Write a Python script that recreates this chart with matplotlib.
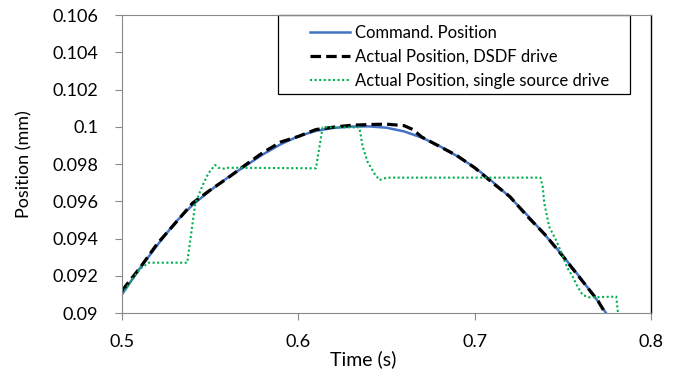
import matplotlib
matplotlib.use('Agg')
from matplotlib import pyplot as plt
from matplotlib.patches import Rectangle
from matplotlib.ticker import FuncFormatter

plt.rcParams['font.family'] = ['Lato', 'DejaVu Sans']

# Command position
t_cmd = [0.500, 0.510, 0.520, 0.530, 0.540, 0.550, 0.560, 0.570, 0.580, 0.590,
         0.600, 0.610, 0.620, 0.630, 0.640, 0.650, 0.660, 0.670, 0.680, 0.690,
         0.700, 0.710, 0.720, 0.730, 0.740, 0.750, 0.760, 0.770, 0.7745]
pos_cmd = [0.09100, 0.09238, 0.09364, 0.09484, 0.09580, 0.09658, 0.09727, 0.09790,
           0.09852, 0.09906, 0.09949, 0.09978, 0.09994, 0.10001, 0.10002, 0.09995,
           0.09975, 0.09942, 0.09897, 0.09843, 0.09782, 0.09706, 0.09622, 0.09524,
           0.09418, 0.09308, 0.09188, 0.09062, 0.09000]

# DSDF drive
t_dsdf = [0.500, 0.510, 0.520, 0.530, 0.540, 0.550, 0.560, 0.570, 0.580, 0.590,
          0.600, 0.610, 0.620, 0.630, 0.640, 0.650, 0.660, 0.665, 0.670, 0.680,
          0.690, 0.700, 0.710, 0.720, 0.730, 0.740, 0.750, 0.760, 0.770, 0.774]
pos_dsdf = [0.09120, 0.09240, 0.09372, 0.09480, 0.09590, 0.09660, 0.09725, 0.09795,
            0.09862, 0.09918, 0.09948, 0.09985, 0.09998, 0.10008, 0.10012, 0.10014,
            0.10006, 0.09985, 0.09945, 0.09895, 0.09845, 0.09780, 0.09700, 0.09625,
            0.09518, 0.09420, 0.09305, 0.09185, 0.09065, 0.09000]

# single source drive
t_single = [0.500, 0.505, 0.510, 0.515, 0.537, 0.539, 0.5416, 0.5464, 0.549, 0.5528,
            0.5547, 0.558, 0.5605, 0.610, 0.6138, 0.6346, 0.6365, 0.6393, 0.6431,
            0.646, 0.6488, 0.652, 0.7373, 0.7386, 0.7395, 0.7423, 0.7461, 0.749,
            0.7508, 0.7527, 0.7556, 0.7584, 0.7612, 0.765, 0.7803, 0.7813]
pos_single = [0.09100, 0.09170, 0.09235, 0.09270, 0.09270, 0.09410, 0.09590, 0.09700,
              0.09750, 0.09795, 0.09780, 0.09775, 0.09780, 0.09777, 0.09997, 0.09997,
              0.09893, 0.09812, 0.09750, 0.09714, 0.09723, 0.09727, 0.09727, 0.09678,
              0.09589, 0.09463, 0.09392, 0.09329, 0.09285, 0.09240, 0.09195, 0.09141,
              0.09097, 0.09084, 0.09088, 0.09000]

x_ticks = [0.5, 0.6, 0.7, 0.8]
y_ticks = [0.09, 0.092, 0.094, 0.096, 0.098, 0.1, 0.102, 0.104, 0.106]

fig = plt.figure(figsize=(6.75, 3.72), dpi=100)
ax = fig.add_axes([0.1807, 0.1586, 0.7837, 0.801])

ax.plot(t_cmd, pos_cmd, color='#4472C4', lw=1.8, label='Command. Position')
ax.plot(t_dsdf, pos_dsdf, color='black', lw=2.3, linestyle=(0, (3.3, 1.6)),
        label='Actual Position, DSDF drive')
ax.plot(t_single, pos_single, color='#00B050', lw=1.5, linestyle=(0, (1, 1.2)),
        label='Actual Position, single source drive')

ax.set_xlim(0.5, 0.8)
ax.set_ylim(0.09, 0.106)
ax.set_xticks(x_ticks)
ax.set_yticks(y_ticks)
fmt = FuncFormatter(lambda v, p: '{:g}'.format(round(v, 4)))
ax.xaxis.set_major_formatter(fmt)
ax.yaxis.set_major_formatter(fmt)
ax.tick_params(axis='both', direction='out', length=5, width=0.8, color='#898989',
               labelsize=13)
ax.tick_params(axis='x', pad=10)
ax.tick_params(axis='y', pad=12)

for side in ['left', 'bottom', 'top']:
    ax.spines[side].set_color('#898989')
    ax.spines[side].set_linewidth(0.8)
ax.spines['right'].set_color('black')
ax.spines['right'].set_linewidth(1.0)

ax.set_ylabel('Position (mm)', fontsize=13, labelpad=14)
ax.text(0.4556, -0.125, 'Time (s)', transform=ax.transAxes, ha='center', va='top',
        fontsize=14)

# legend box
ax.add_patch(Rectangle((0.295, 0.735), 0.665, 0.265, transform=ax.transAxes,
                       fill=False, edgecolor='black', lw=0.9, clip_on=False))
leg = ax.legend(loc='upper left', bbox_to_anchor=(0.355, 0.968), frameon=False,
                fontsize=12, borderpad=0, handlelength=2.4, handletextpad=0.3,
                labelspacing=0.5, borderaxespad=0)

fig.savefig('out.png', dpi=100)
